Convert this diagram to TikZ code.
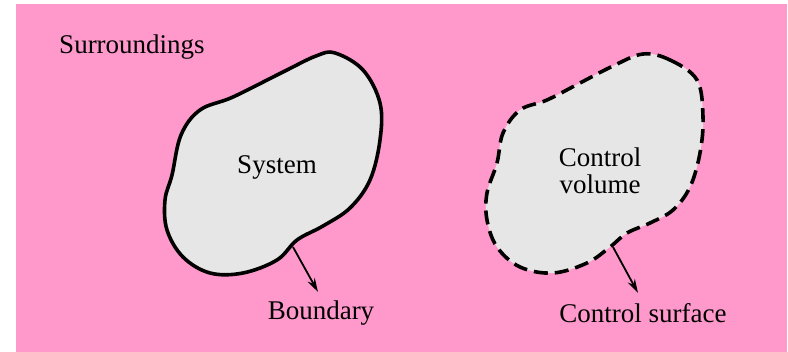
\documentclass[tikz,border=0pt]{standalone}
\usepackage{fontspec}
\setmainfont{Liberation Serif}
\usetikzlibrary{arrows.meta}
\definecolor{bgpink}{RGB}{255,153,204}
\definecolor{blobgray}{RGB}{230,230,230}
\begin{document}
\begin{tikzpicture}[x=1pt,y=-1pt,
  lbl/.style={font=\fontsize{27}{30}\selectfont, inner sep=0pt, align=center},
  blob/.style={fill=blobgray, draw=black, line width=3.6pt},
  ptr/.style={draw=black, line width=1.8pt, -{Stealth[length=14pt,width=8pt]}}]
\useasboundingbox (0,0) rectangle (788,352);
\fill[white] (0,0) rectangle (788,352);
\fill[bgpink] (16,4) rectangle (787,352);
\node[lbl] (surr) at (132,47) {Surroundings};
% System
\draw[blob] plot[smooth cycle, tension=0.6] coordinates {
 (316,56) (335,53) (363,70) (380,103) (380,140) (370,180) (350,208)
 (323,226) (297,240) (277,260) (243,273) (210,273) (183,257) (167,230)
 (165,200) (172,175) (181,135) (200,110) (233,97) (283,72)};
\node[lbl] (sys) at (277,167) {System};
\coordinate (sysb) at (293,247);
\node[lbl] (bnd) at (321,313) {Boundary};
\draw[ptr] (sysb) -- (318,292);
% Control volume
\draw[blob, dash pattern=on 14pt off 7pt] plot[smooth cycle, tension=0.6] coordinates {
 (643,54) (670,60) (697,80) (703,117) (700,153) (690,187) (673,210)
 (650,223) (627,233) (610,247) (587,263) (553,273) (520,267) (497,247)
 (487,220) (487,193) (497,163) (503,133) (520,110) (547,100) (580,83) (613,66)};
\node[lbl, text width=200pt] (cv) at (600,171) {Control\\[-3pt]volume};
\coordinate (cvb) at (613,247);
\node[lbl] (cs) at (643,313) {Control surface};
\draw[ptr] (cvb) -- (638,293);
\end{tikzpicture}
\end{document}
